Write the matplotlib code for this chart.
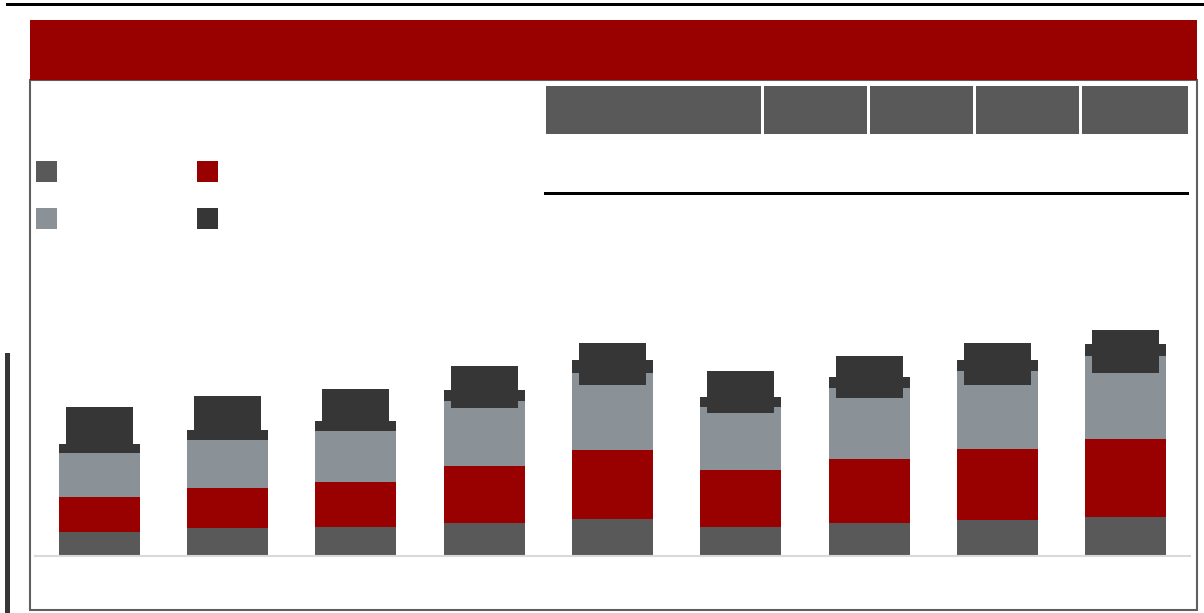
import numpy as np
import matplotlib.pyplot as plt
from matplotlib.patches import Rectangle

# stacked values (arbitrary units)
categories = ['1', '2', '3', '4', '5', '6', '7', '8', '9']
series_a = [24, 28, 29, 33, 37, 29, 33, 36, 39]
series_b = [35, 40, 45, 57, 69, 57, 64, 71, 78]
series_c = [44, 48, 51, 65, 77, 63, 71, 78, 83]
series_d = [9, 10, 10, 11, 13, 10, 11, 11, 12]

c_a = '#595959'
c_b = '#990000'
c_c = '#8a9297'
c_d = '#363636'

W, H = 1204, 613
fig = plt.figure(figsize=(W / 100, H / 100), dpi=100)

# background layer in pixel coordinates for the frame decorations
bg = fig.add_axes([0, 0, 1, 1])
bg.set_xlim(0, W)
bg.set_ylim(H, 0)
bg.axis('off')
bg.add_patch(Rectangle((6, 3), W - 6, 3, color='black', lw=0))
bg.add_patch(Rectangle((30, 80), 1167, 530, fill=False, ec='#5f5f5f', lw=1.5))
bg.add_patch(Rectangle((30, 20), 1167, 60, color=c_b, lw=0))
bg.add_patch(Rectangle((5, 353), 5, H - 353, color='#363636', lw=0))

# table header boxes and rule
for x0, x1 in [(546, 761), (764, 867), (870, 973), (976, 1079), (1082, 1188)]:
    bg.add_patch(Rectangle((x0, 86), x1 - x0, 48, color=c_a, lw=0))
bg.add_patch(Rectangle((544, 192), 645, 3, color='black', lw=0))

# legend swatches (labels are blank in the reference)
for (lx, ly), col in zip([(36, 161), (197, 161), (36, 208), (197, 208)],
                         [c_a, c_b, c_c, c_d]):
    bg.add_patch(Rectangle((lx, ly), 21, 21, color=col, lw=0))

# main chart
ax = fig.add_axes([35 / W, 1 - 556 / H, (1190 - 35) / W, 320 / H])
x = np.arange(len(categories))
a = np.array(series_a)
b = np.array(series_b)
c = np.array(series_c)
d = np.array(series_d)
ax.bar(x, a, width=0.63, color=c_a)
ax.bar(x, b, width=0.63, bottom=a, color=c_b)
ax.bar(x, c, width=0.63, bottom=a + b, color=c_c)
ax.bar(x, d, width=0.63, bottom=a + b + c, color=c_d)
total = a + b + c + d

ax.set_xlim(-0.5, 8.5)
ax.set_ylim(0, 320)
ax.patch.set_alpha(0)
for s in ['top', 'right', 'left']:
    ax.spines[s].set_visible(False)
ax.spines['bottom'].set_color('#d9d9d9')
ax.spines['bottom'].set_linewidth(1.5)
ax.set_xticks([])
ax.set_yticks([])

# total labels (dark boxes) on a secondary scale
ax2 = ax.twinx()
ax2.set_ylim(-55.3, 363)
ax2.bar(x, 55, width=0.52, bottom=total - 27.5, color=c_d)
ax2.set_xlim(-0.5, 8.5)
ax2.axis('off')

fig.savefig('out.png', dpi=100)
